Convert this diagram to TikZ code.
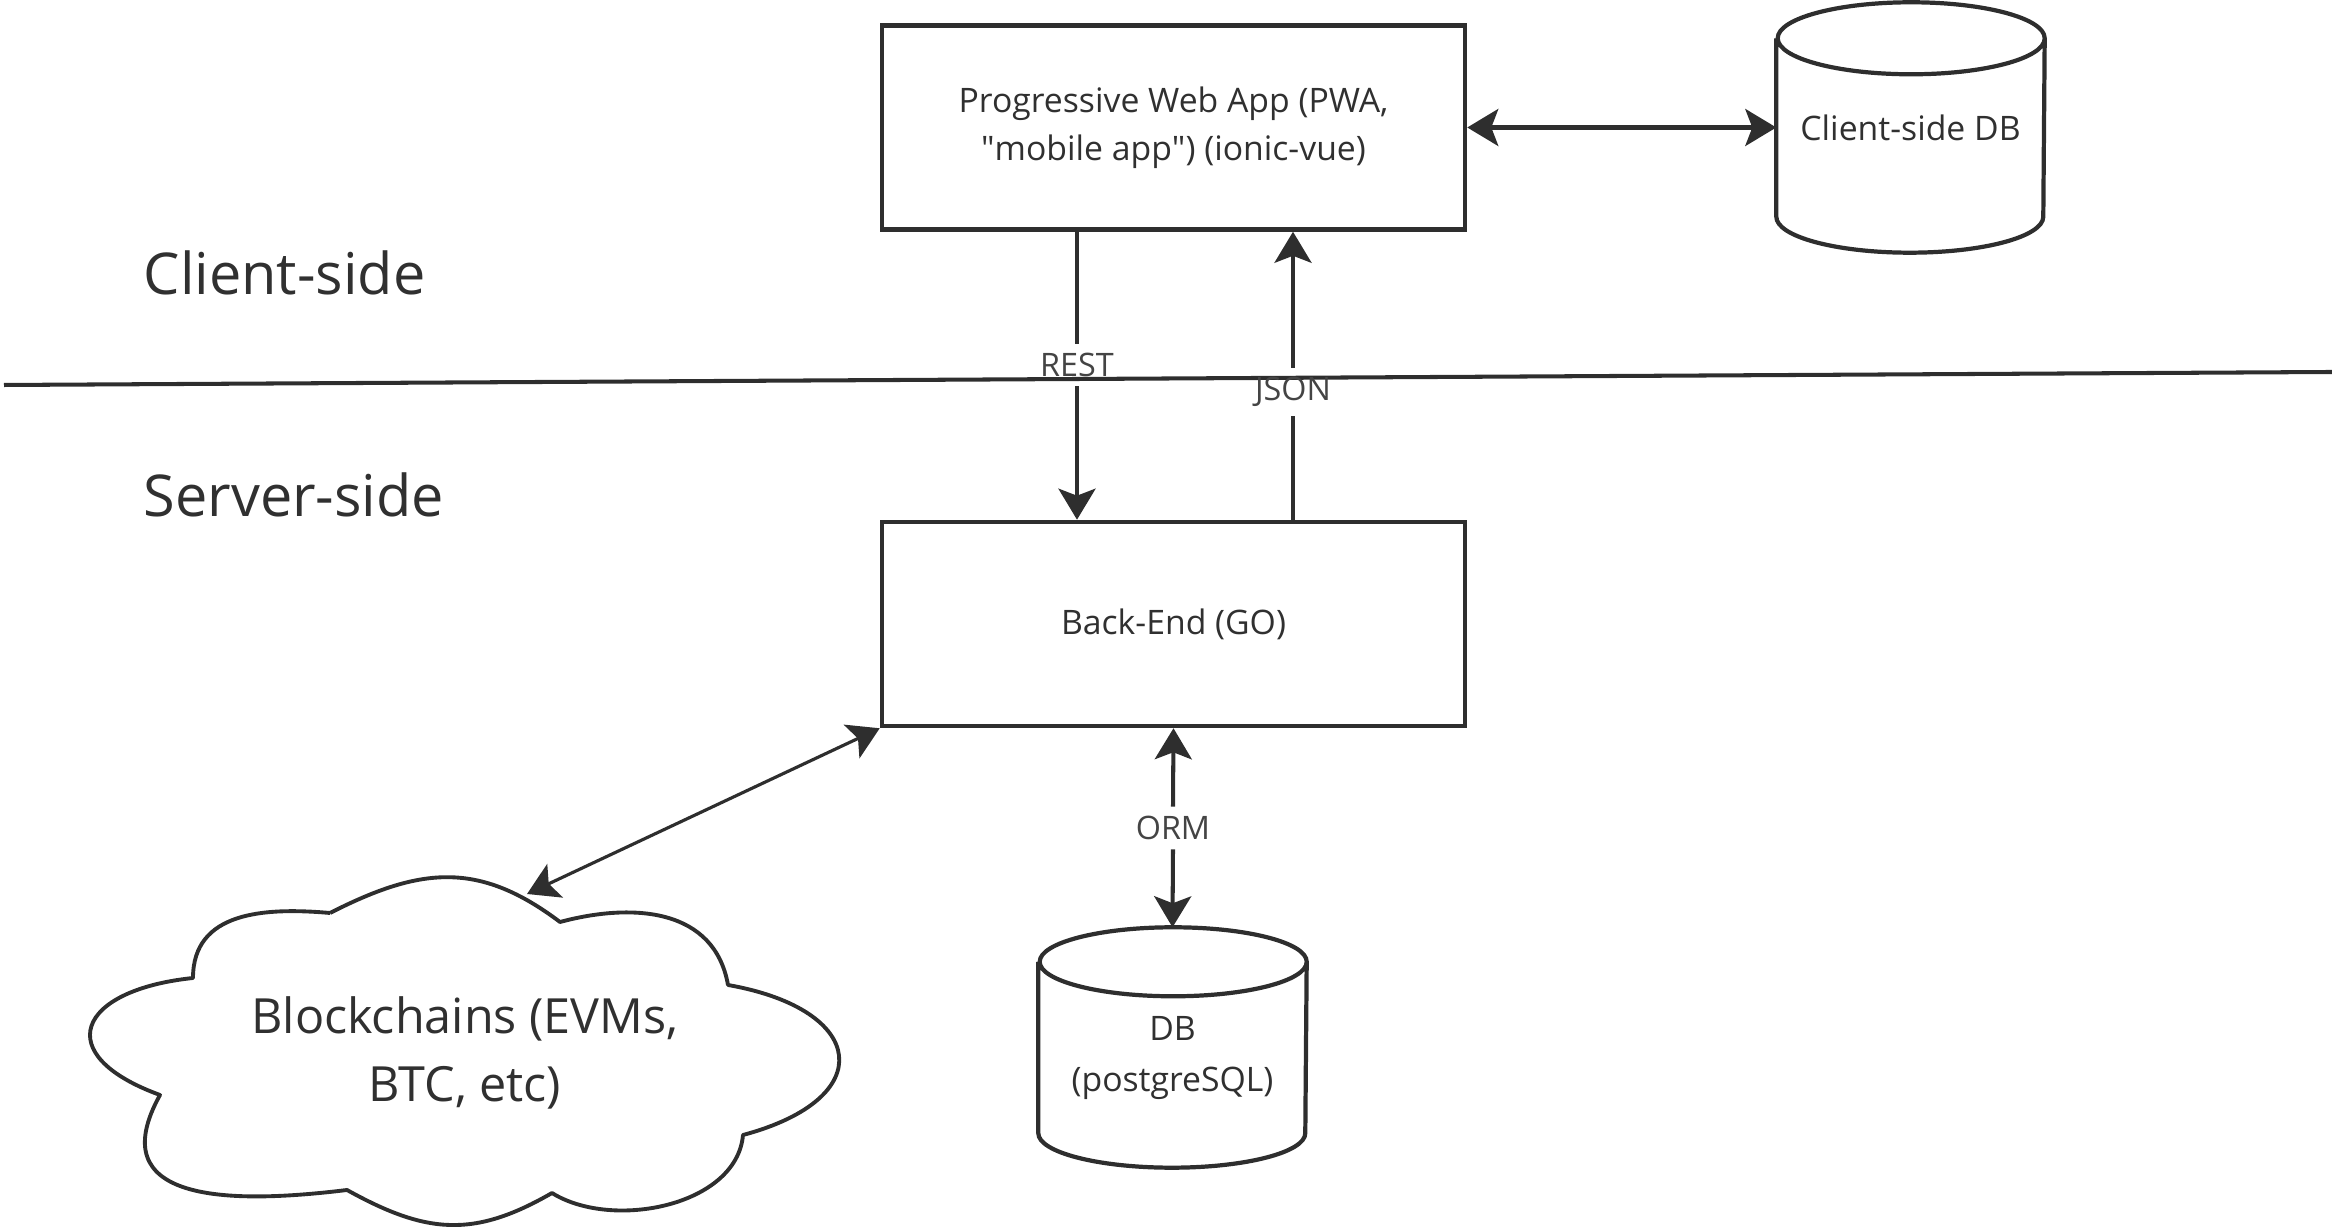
\documentclass[tikz,border=0pt]{standalone}
\usepackage{fontspec}
\setmainfont{Open Sans}
\usetikzlibrary{arrows.meta}
\definecolor{ink}{HTML}{2E2E2E}
\definecolor{txt}{HTML}{303030}
\definecolor{lbltxt}{HTML}{444444}
\tikzset{
 boxnode/.style={draw=ink, line width=1.3pt, minimum width=58.3mm, minimum height=20.4mm, align=center, text=txt, font=\fontsize{9.6}{13.7}\selectfont, inner sep=0pt},
 cylarea/.style={inner sep=0pt, align=center, text=txt, font=\fontsize{9.6}{14.2}\selectfont},
 cyltext/.style={inner sep=0pt, align=center, text=txt, font=\fontsize{9.6}{14.4}\selectfont},
 cylline/.style={draw=ink, line width=1.2pt},
 cloudline/.style={draw=ink, line width=1.1pt, line join=round},
 lbl/.style={text=lbltxt, font=\fontsize{9.2}{11}\selectfont, inner sep=2.5pt},
 conn/.style={draw=ink, line width=1.15pt},
 tipA/.tip={Stealth[length=3.1mm,width=3.7mm,inset=0.7mm]},
 sidelbl/.style={text=txt, font=\fontsize{16.4}{20}\selectfont, anchor=base west, inner sep=0pt},
}
\newcommand\mycyl[3]{%
 \draw[cylline] ([yshift=-#3]#1.north west) -- ([yshift=#3]#1.south west)
  arc[start angle=180,end angle=360,x radius=#2,y radius=#3]
  -- ([yshift=-#3]#1.north east)
  arc[start angle=0,end angle=180,x radius=#2,y radius=#3]
  arc[start angle=180,end angle=360,x radius=#2,y radius=#3];}
\begin{document}
\begin{tikzpicture}[x=0.1mm,y=-0.1mm]
\useasboundingbox (0,0) rectangle (2332,1227);
% divider
\coordinate (dl) at (4,385);
\coordinate (dr) at (2332,372);
\draw[conn] (dl) -- (dr);
% side labels
\node[sidelbl] (cs) at (143,295) {Client-side};
\node[sidelbl] (ss) at (143,517) {Server-side};
% boxes
\node[boxnode] (pwa) at (1173.5,127.5) {Progressive Web App (PWA,\\\textquotedbl mobile app\textquotedbl) (ionic-vue)};
\node[boxnode] (be) at (1173.5,624) {Back-End (GO)};
% cylinders
\node[cylarea, minimum width=26.7mm, minimum height=24.9mm] (cdb) at (1910.5,127.5) {Client-side DB};
\mycyl{cdb}{13.35mm}{3.6mm}
\node[cylarea, minimum width=26.7mm, minimum height=23.9mm] (db) at (1172.5,1047.5) {};
\mycyl{db}{13.35mm}{3.45mm}
\node[cyltext] (dbtext) at (1172.5,1058) {DB\\(postgreSQL)};
% cloud
\node[inner sep=0pt, align=center, text=txt, font=\fontsize{13.8}{19.3}\selectfont] (bc) at (465,1053) {Blockchains (EVMs,\\BTC, etc)};
\draw[cloudline] (330,913)
  to[out=27, in=143, looseness=1.13] (560,922)
  to[out=15, in=100, looseness=1.1] (728,985)
  to[out=-10, in=15, looseness=2.4] (743,1135)
  to[out=-95, in=-32, looseness=0.91] (552,1193)
  to[out=-150, in=-29, looseness=1.13] (347,1190)
  to[out=187, in=241, looseness=1.49] (160,1095)
  to[out=160, in=186, looseness=2.47] (193,978)
  to[out=90, in=175, looseness=1.12] (330,913);
% connectors
\draw[conn, {tipA}-{tipA}] (pwa.east) -- (cdb.west);
\node[lbl] (rest) at (1077,365) {REST};
\draw[conn] (pwa.south -| rest) -- (rest.north);
\draw[conn,-{tipA}] (rest.south) -- (be.north -| rest);
\node[lbl] (json) at (1293,392) {JSON};
\draw[conn] (be.north -| json) -- (json.south);
\draw[conn,-{tipA}] (json.north) -- (pwa.south -| json);
\node[lbl] (orm) at (1173,828) {ORM};
\draw[conn,-{tipA}] (orm.north) -- (be.south);
\draw[conn,-{tipA}] (orm.south) -- (db.north);
\coordinate (bctip) at (527,894);
\draw[conn, line width=0.9pt, {tipA}-{tipA}] (be.south west) -- (bctip);
\end{tikzpicture}
\end{document}
